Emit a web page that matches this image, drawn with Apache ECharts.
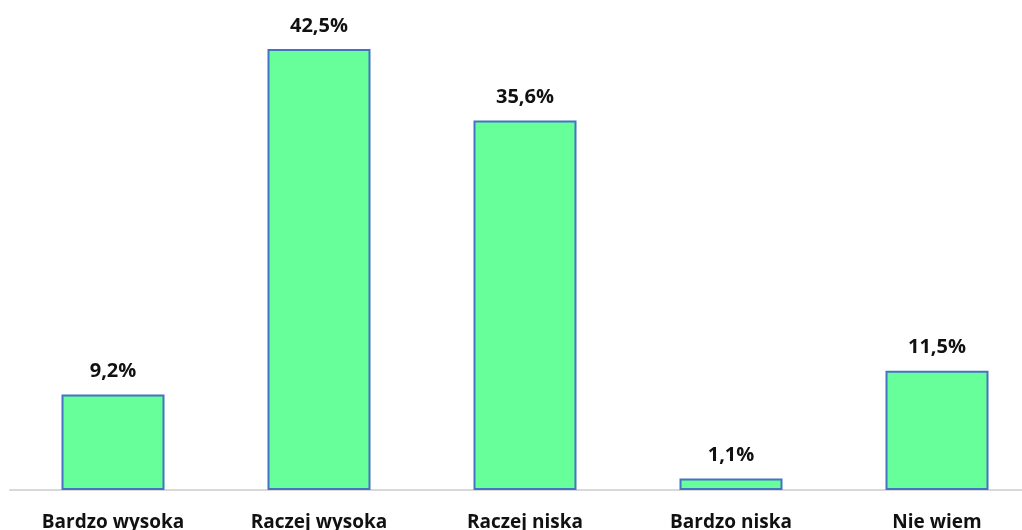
<!DOCTYPE html>
<html>
<head>
<meta charset="utf-8">
<script src="https://cdn.jsdelivr.net/npm/echarts@6/dist/echarts.min.js"></script>
<style>
  html, body { margin: 0; padding: 0; background: #fff; }
  #chart { width: 1022px; height: 530px; }
</style>
</head>
<body>
<div id="chart"></div>
<script>
const categories = ['Bardzo wysoka', 'Raczej wysoka', 'Raczej niska', 'Bardzo niska', 'Nie wiem']
const values = [9.2, 42.5, 35.6, 1.1, 11.5]

const chart = echarts.init(document.getElementById('chart'))
chart.setOption({
  animation: false,
  grid: {
    left: 10,
    width: 1030,
    top: 23,
    bottom: 40,
    containLabel: false,
    outerBoundsMode: 'none'
  },
  xAxis: {
    type: 'category',
    data: categories,
    axisLine: { lineStyle: { color: '#d9d9d9', width: 2 } },
    axisTick: { show: false },
    axisLabel: {
      margin: 23,
      color: '#111',
      fontFamily: 'Open Sans',
      fontWeight: 'bold',
      fontSize: 19
    }
  },
  yAxis: {
    type: 'value',
    min: 0,
    max: 45,
    show: false,
    splitLine: { show: false }
  },
  series: [{
    type: 'bar',
    data: values,
    barWidth: '50%',
    itemStyle: {
      color: '#66FF99',
      borderColor: '#4472C4',
      borderWidth: 2
    },
    label: {
      show: true,
      position: 'top',
      distance: 13,
      color: '#111',
      fontFamily: 'Open Sans',
      fontWeight: 'bold',
      fontSize: 20,
      formatter: p => p.value.toFixed(1).replace('.', ',') + '%'
    }
  }]
})
</script>
</body>
</html>
